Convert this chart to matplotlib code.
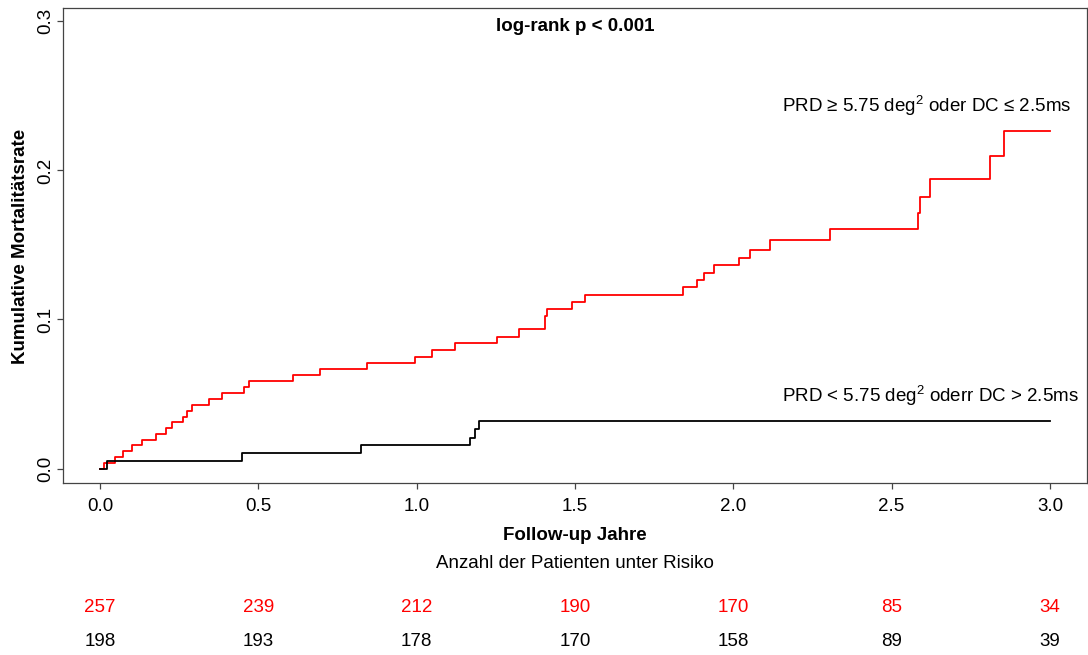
import matplotlib
matplotlib.use('Agg')
import matplotlib.pyplot as plt
import matplotlib.transforms as mtransforms

plt.rcParams['font.family'] = ['Liberation Sans', 'DejaVu Sans']
plt.rcParams['mathtext.fontset'] = 'custom'
plt.rcParams['mathtext.rm'] = 'Liberation Sans'
plt.rcParams['mathtext.it'] = 'Liberation Sans:italic'
plt.rcParams['mathtext.bf'] = 'Liberation Sans:bold'

# Kaplan-Meier style cumulative mortality
red_times = [0, 0.013, 0.048, 0.074, 0.101, 0.132, 0.176, 0.208, 0.226, 0.261,
             0.275, 0.291, 0.345, 0.386, 0.455, 0.471, 0.611, 0.696, 0.844, 0.995,
             1.047, 1.121, 1.253, 1.323, 1.406, 1.411, 1.491, 1.531, 1.840, 1.884,
             1.908, 1.939, 2.019, 2.054, 2.117, 2.305, 2.584, 2.589, 2.621, 2.810,
             2.856, 3.0]
red_rate = [0, 0.0039, 0.0075, 0.0115, 0.0155, 0.0193, 0.0234, 0.0272, 0.0312, 0.0348,
            0.0388, 0.0428, 0.0467, 0.0507, 0.0547, 0.0585, 0.0625, 0.0666, 0.0709, 0.0750,
            0.0795, 0.0841, 0.0885, 0.0934, 0.1023, 0.107, 0.112, 0.1165, 0.1216, 0.1265,
            0.1314, 0.1364, 0.1415, 0.1469, 0.1532, 0.1607, 0.1713, 0.182, 0.1943, 0.2097,
            0.2263, 0.2263]

black_times = [0, 0.023, 0.447, 0.823, 1.168, 1.184, 1.197, 3.0]
black_rate = [0, 0.005, 0.0101, 0.0155, 0.0207, 0.0262, 0.032, 0.032]

risk_times = [0.0, 0.5, 1.0, 1.5, 2.0, 2.5, 3.0]
risk_red = [257, 239, 212, 190, 170, 85, 34]
risk_black = [198, 193, 178, 170, 158, 89, 39]

x_ticks = [0.0, 0.5, 1.0, 1.5, 2.0, 2.5, 3.0]
y_ticks = [0.0, 0.1, 0.2, 0.3]

label_red = 'PRD ≥ 5.75 deg$^{2}$ oder DC ≤ 2.5ms'
label_black = 'PRD < 5.75 deg$^{2}$ oderr DC > 2.5ms'

FS = 13.5

fig = plt.figure(figsize=(10.88, 6.55), dpi=100)
ax = fig.add_axes([63 / 1088, 1 - 483 / 655, (1087 - 63) / 1088, (483 - 8) / 655])

ax.step(red_times, red_rate, where='post', color='#ff0000', lw=1.3)
ax.step(black_times, black_rate, where='post', color='black', lw=1.3)

ax.set_xlim(-0.1168, 3.117)
ax.set_ylim(-0.0097, 0.309)
ax.set_xticks(x_ticks)
ax.set_xticklabels([f'{t:.1f}' for t in x_ticks])
ax.set_yticks(y_ticks)
ax.set_yticklabels([f'{t:.1f}' for t in y_ticks])
for s in ax.spines.values():
    s.set_color('#444444')
    s.set_linewidth(0.9)
ax.tick_params(axis='x', length=4, width=0.9, color='#444444', pad=6.5, labelsize=FS)
ax.tick_params(axis='y', length=4.5, width=0.9, color='#444444', pad=2, labelsize=FS)
plt.setp(ax.get_yticklabels(), rotation=90, va='center')

ax.text(0.5, 0.978, 'log-rank p < 0.001', transform=ax.transAxes, ha='center', va='top',
        fontsize=FS, fontweight='bold')
ax.text(2.153, 0.2395, label_red, ha='left', va='baseline', fontsize=FS)
ax.text(2.153, 0.0445, label_black, ha='left', va='baseline', fontsize=FS)

fig.text(21 / 1088, 1 - 246 / 655, 'Kumulative Mortalitätsrate', rotation=90,
         ha='center', va='center', fontsize=FS, fontweight='bold')
fig.text(575 / 1088, 1 - 535 / 655, 'Follow-up Jahre', ha='center', va='center',
         fontsize=FS, fontweight='bold')
fig.text(575 / 1088, 1 - 564 / 655, 'Anzahl der Patienten unter Risiko', ha='center',
         va='center', fontsize=FS)

trans = mtransforms.blended_transform_factory(ax.transData, fig.transFigure)
for t, n in zip(risk_times, risk_red):
    ax.text(t, 1 - 607 / 655, str(n), transform=trans, ha='center', va='center',
            fontsize=FS, color='#ff0000', clip_on=False)
for t, n in zip(risk_times, risk_black):
    ax.text(t, 1 - 642 / 655, str(n), transform=trans, ha='center', va='center',
            fontsize=FS, color='black', clip_on=False)

fig.savefig('out.png', dpi=100)
